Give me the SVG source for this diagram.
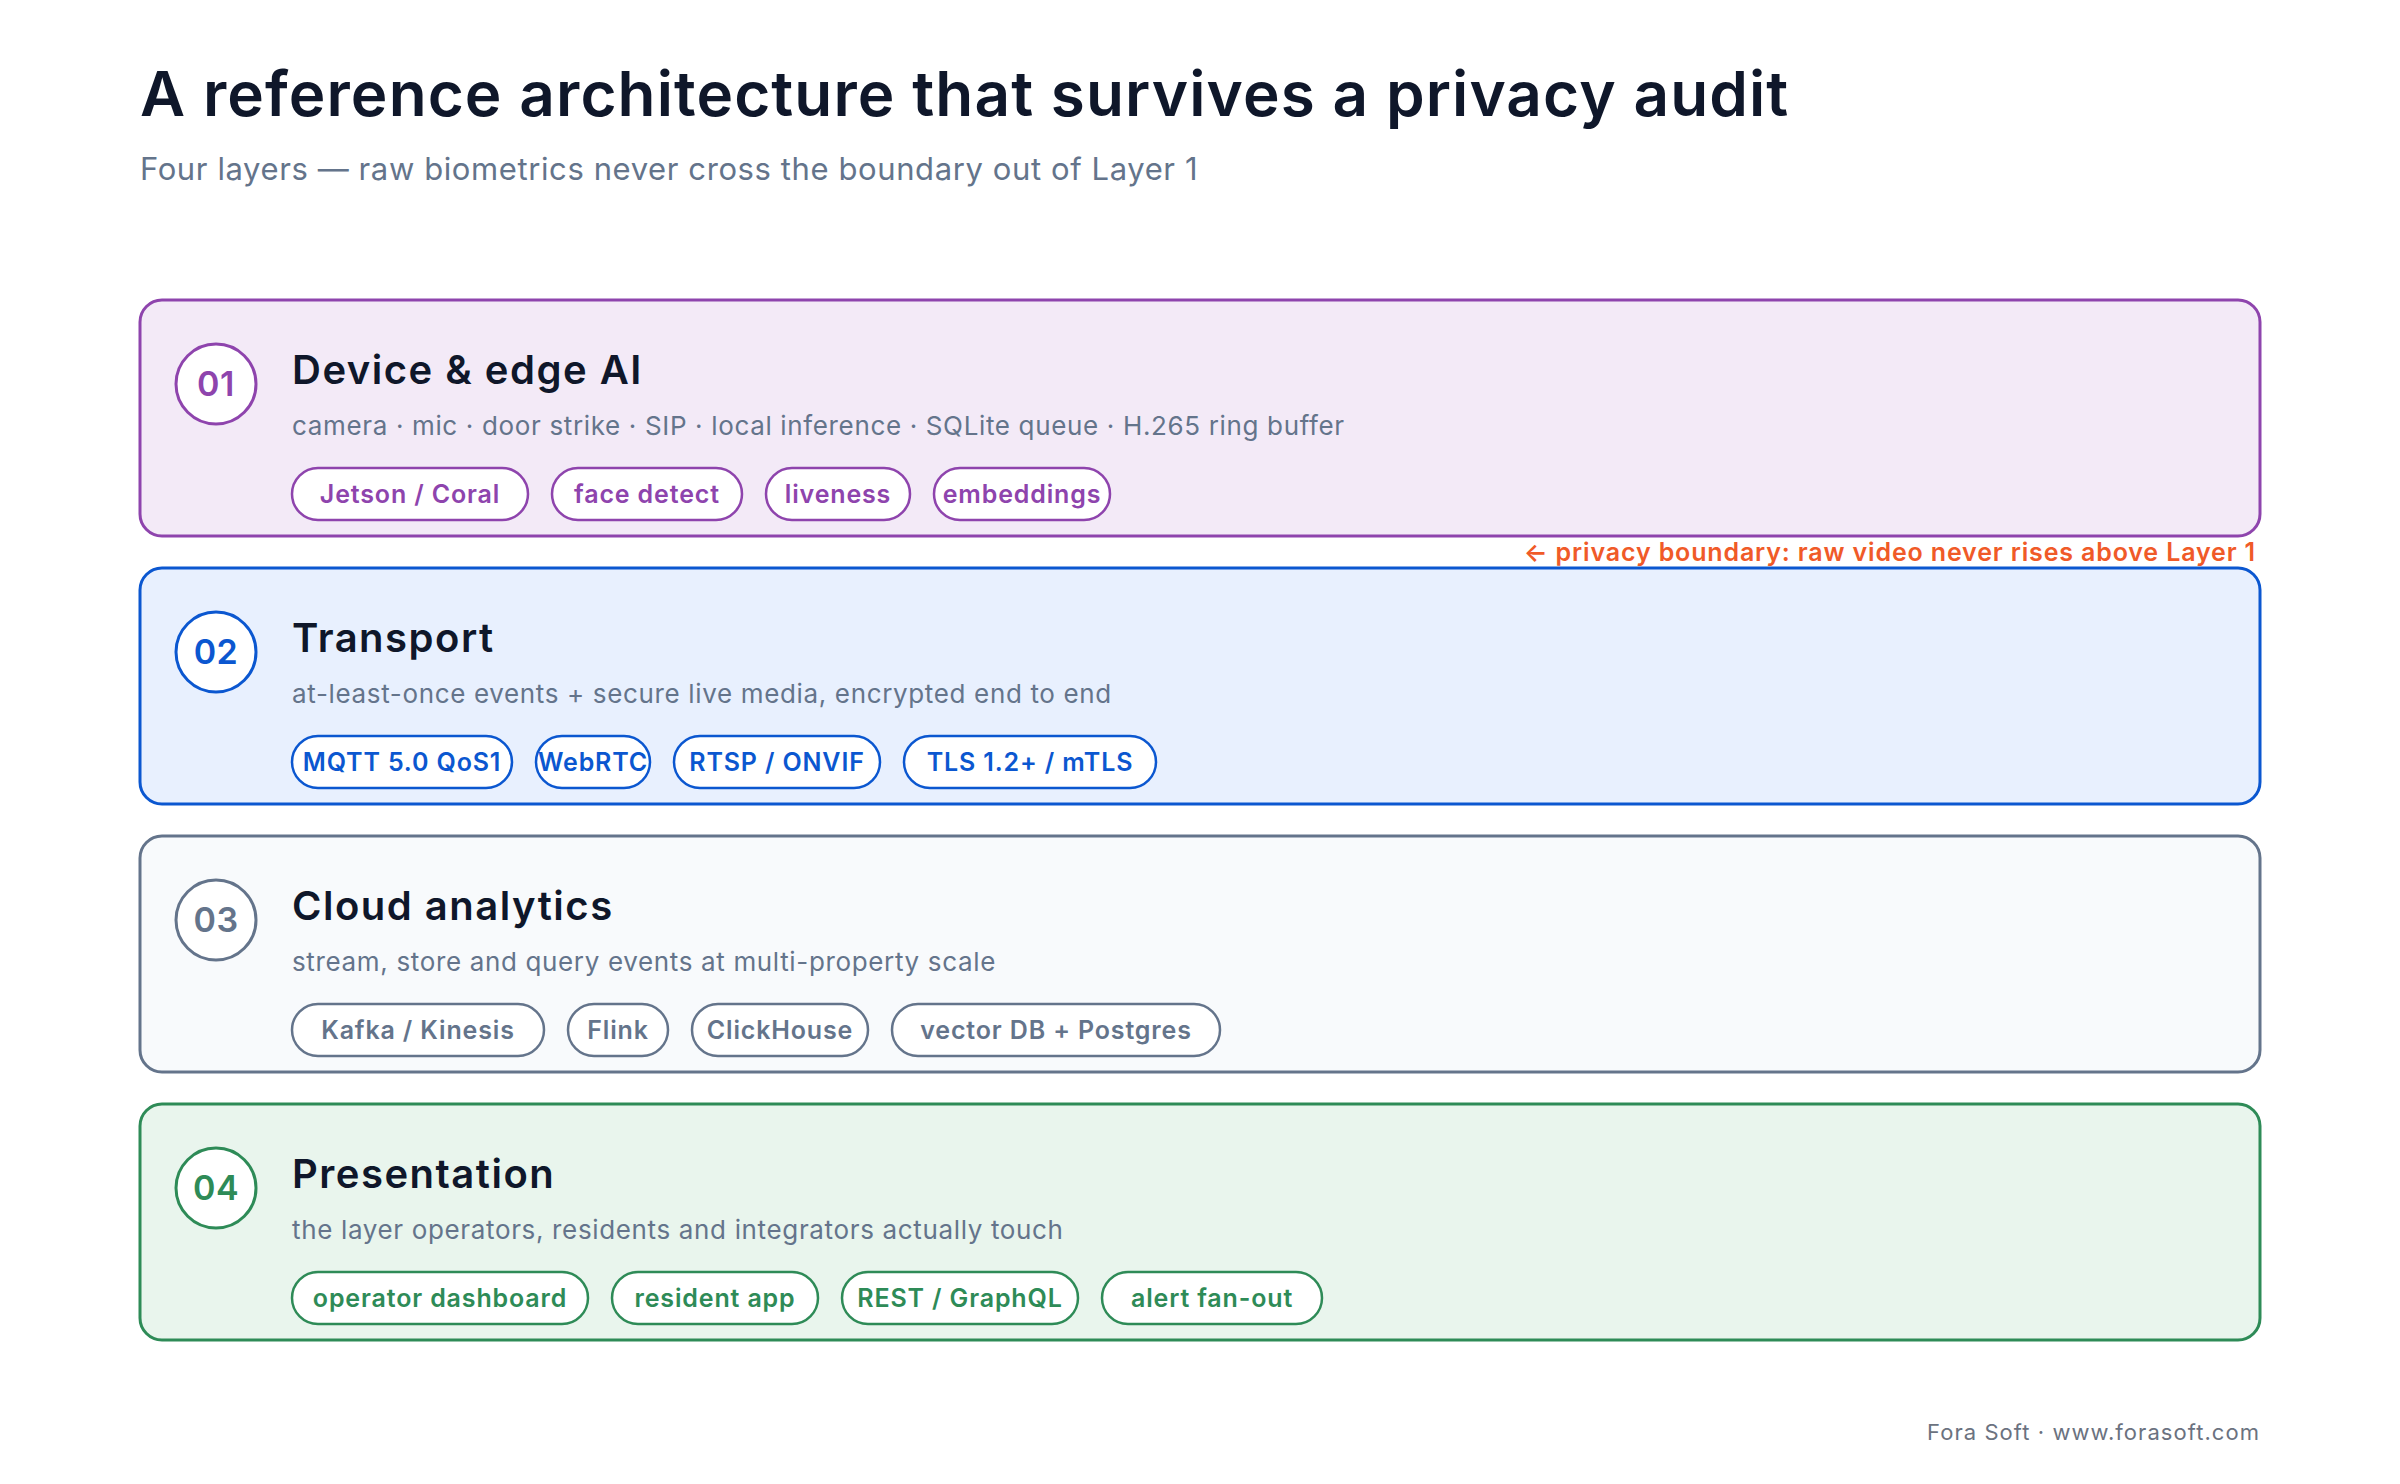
<svg xmlns="http://www.w3.org/2000/svg" width="2400" height="1484" viewBox="0 0 2400 1484">
<style>
text{font-family:Inter,"Noto Sans","Liberation Sans",sans-serif}
.title{font-size:62px;font-weight:600;fill:#0f172a;letter-spacing:1.1px}
.subtitle{font-size:31px;fill:#64748b;letter-spacing:0.6px}
.lt{font-size:40px;font-weight:600;fill:#0f172a;letter-spacing:1.5px}
.ls{font-size:26px;fill:#64748b;letter-spacing:0.65px}
.num{font-size:34px;font-weight:600;text-anchor:middle;letter-spacing:0.5px}
.chip{font-size:25px;font-weight:600;text-anchor:middle;letter-spacing:0.85px}
.chipr{fill:#ffffff;stroke-width:2.5}
.box{stroke-width:3}
.l1 .box{fill:#f3eaf7;stroke:#8e44ad}.l1 .chipr,.l1 circle{stroke:#8e44ad}.l1 .num,.l1 .chip{fill:#8e44ad}
.l2 .box{fill:#e8f0fe;stroke:#0b57d0}.l2 .chipr,.l2 circle{stroke:#0b57d0}.l2 .num,.l2 .chip{fill:#0b57d0}
.l3 .box{fill:#f8fafc;stroke:#64748b}.l3 .chipr,.l3 circle{stroke:#64748b}.l3 .num,.l3 .chip{fill:#64748b}
.l4 .box{fill:#e9f5ed;stroke:#2e8b57}.l4 .chipr,.l4 circle{stroke:#2e8b57}.l4 .num,.l4 .chip{fill:#2e8b57}
circle{fill:#ffffff;stroke-width:3}
.boundary{font-size:25px;font-weight:600;fill:#f05a28;text-anchor:end;letter-spacing:0.85px}
.footer{font-size:22px;fill:#6b7280;text-anchor:end;letter-spacing:1.05px}
</style>
<rect width="2400" height="1484" fill="#ffffff"/>
<text class="title" x="140" y="116">A reference architecture that survives a privacy audit</text>
<text class="subtitle" x="140" y="180">Four layers — raw biometrics never cross the boundary out of Layer 1</text>

<g id="layer1" class="l1">
<rect class="box" x="140" y="300" width="2120" height="236" rx="22"/>
<circle cx="216" cy="384" r="40"/>
<text class="num" x="216" y="396">01</text>
<text class="lt" x="292" y="384">Device &amp; edge AI</text>
<text class="ls" x="292" y="435">camera · mic · door strike · SIP · local inference · SQLite queue · H.265 ring buffer</text>
<rect class="chipr" x="292" y="468" width="236" height="52" rx="26"/>
<text class="chip" x="410" y="503">Jetson / Coral</text>
<rect class="chipr" x="552" y="468" width="190" height="52" rx="26"/>
<text class="chip" x="647" y="503">face detect</text>
<rect class="chipr" x="766" y="468" width="144" height="52" rx="26"/>
<text class="chip" x="838" y="503">liveness</text>
<rect class="chipr" x="934" y="468" width="176" height="52" rx="26"/>
<text class="chip" x="1022" y="503">embeddings</text>
</g>

<g id="layer2" class="l2">
<rect class="box" x="140" y="568" width="2120" height="236" rx="22"/>
<circle cx="216" cy="652" r="40"/>
<text class="num" x="216" y="664">02</text>
<text class="lt" x="292" y="652">Transport</text>
<text class="ls" x="292" y="703">at-least-once events + secure live media, encrypted end to end</text>
<rect class="chipr" x="292" y="736" width="220" height="52" rx="26"/>
<text class="chip" x="402" y="771">MQTT 5.0 QoS1</text>
<rect class="chipr" x="536" y="736" width="114" height="52" rx="26"/>
<text class="chip" x="593" y="771">WebRTC</text>
<rect class="chipr" x="674" y="736" width="206" height="52" rx="26"/>
<text class="chip" x="777" y="771">RTSP / ONVIF</text>
<rect class="chipr" x="904" y="736" width="252" height="52" rx="26"/>
<text class="chip" x="1030" y="771">TLS 1.2+ / mTLS</text>
</g>

<g id="layer3" class="l3">
<rect class="box" x="140" y="836" width="2120" height="236" rx="22"/>
<circle cx="216" cy="920" r="40"/>
<text class="num" x="216" y="932">03</text>
<text class="lt" x="292" y="920">Cloud analytics</text>
<text class="ls" x="292" y="971">stream, store and query events at multi-property scale</text>
<rect class="chipr" x="292" y="1004" width="252" height="52" rx="26"/>
<text class="chip" x="418" y="1039">Kafka / Kinesis</text>
<rect class="chipr" x="568" y="1004" width="100" height="52" rx="26"/>
<text class="chip" x="618" y="1039">Flink</text>
<rect class="chipr" x="692" y="1004" width="176" height="52" rx="26"/>
<text class="chip" x="780" y="1039">ClickHouse</text>
<rect class="chipr" x="892" y="1004" width="328" height="52" rx="26"/>
<text class="chip" x="1056" y="1039">vector DB + Postgres</text>
</g>

<g id="layer4" class="l4">
<rect class="box" x="140" y="1104" width="2120" height="236" rx="22"/>
<circle cx="216" cy="1188" r="40"/>
<text class="num" x="216" y="1200">04</text>
<text class="lt" x="292" y="1188">Presentation</text>
<text class="ls" x="292" y="1239">the layer operators, residents and integrators actually touch</text>
<rect class="chipr" x="292" y="1272" width="296" height="52" rx="26"/>
<text class="chip" x="440" y="1307">operator dashboard</text>
<rect class="chipr" x="612" y="1272" width="206" height="52" rx="26"/>
<text class="chip" x="715" y="1307">resident app</text>
<rect class="chipr" x="842" y="1272" width="236" height="52" rx="26"/>
<text class="chip" x="960" y="1307">REST / GraphQL</text>
<rect class="chipr" x="1102" y="1272" width="220" height="52" rx="26"/>
<text class="chip" x="1212" y="1307">alert fan-out</text>
</g>

<g id="connectors">
<text id="boundary" class="boundary" x="2256" y="561">← privacy boundary: raw video never rises above Layer 1</text>
</g>
<text class="footer" x="2260" y="1440">Fora Soft · www.forasoft.com</text>
</svg>
